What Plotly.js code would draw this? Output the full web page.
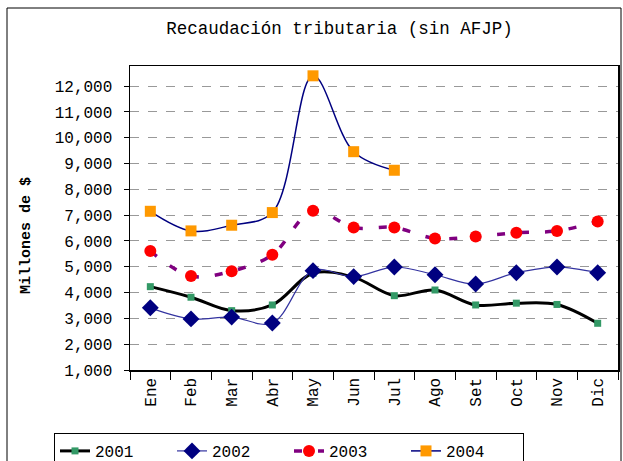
<!DOCTYPE html>
<html><head><meta charset="utf-8">
<script src="https://cdn.plot.ly/plotly-3.0.1.min.js"></script>
<style>body{margin:0;background:#fff}#c{width:623px;height:461px}</style>
</head><body><div id="c"></div>
<script>
const months = ["Ene","Feb","Mar","Abr","May","Jun","Jul","Ago","Set","Oct","Nov","Dic"];
const y2001 = [4230,3820,3300,3520,4750,4600,3880,4100,3520,3590,3540,2810];
const y2002 = [3410,2980,3050,2820,4850,4620,4990,4690,4330,4770,4990,4770];
const y2003 = [5610,4640,4830,5470,7170,6520,6520,6100,6170,6320,6390,6750];
const y2004 = [7150,6390,6610,7100,12400,9460,8740,null,null,null,null,null];
const yTicks = [1000,2000,3000,4000,5000,6000,7000,8000,9000,10000,11000,12000];

const F = "Liberation Mono, Courier New, monospace";
const traces = [
  {name:"2001", x:months, y:y2001, mode:"lines+markers", line:{color:"#000000", width:3, shape:"spline"},
   marker:{symbol:"square", color:"#339966", size:7}},
  {name:"2002", x:months, y:y2002, mode:"lines+markers", line:{color:"#3333A0", width:1.2, shape:"spline"},
   marker:{symbol:"diamond", color:"#000080", size:13}},
  {name:"2003", x:months, y:y2003, mode:"lines+markers", line:{color:"#800080", width:3.5, shape:"spline", dash:"8px,16px"},
   marker:{symbol:"circle", color:"#FF0000", size:12}},
  {name:"2004", x:months, y:y2004, mode:"lines+markers", line:{color:"#000080", width:1.5, shape:"spline"},
   marker:{symbol:"square", color:"#FF9900", size:11}, connectgaps:false}
];
const layout = {
  width:623, height:461,
  margin:{l:130, r:5, t:66, b:91, autoexpand:false},
  paper_bgcolor:"#fff", plot_bgcolor:"#fff",
  font:{family:F, color:"#000", size:15},
  title:{text:"Recaudación tributaria (sin AFJP)", font:{family:F, size:17.5, color:"#000"},
         x:0.545, xanchor:"center", y:0.94, yanchor:"middle", xref:"container", yref:"container"},
  xaxis:{type:"category", tickmode:"array", tickvals:months, ticktext:months, tickangle:-90,
         tickson:"boundaries", ticks:"outside", ticklen:8, tickcolor:"#000",
         showline:true, linecolor:"#000", linewidth:1.5, mirror:true, showgrid:false,
         tickfont:{family:F, size:16}, range:[-0.5,11.5], automargin:false},
  yaxis:{range:[1000,12780], tickvals:yTicks, tickformat:",d", ticks:"outside", ticklen:5, tickcolor:"#000",
         showline:true, linecolor:"#000", linewidth:1.5, mirror:true, ticklabelstandoff:8,
         showgrid:true, gridcolor:"#999", griddash:"dash", gridwidth:1, zeroline:false,
         tickfont:{family:F, size:16}, automargin:false},
  annotations:[{text:"<b>Millones de $</b>", xref:"paper", yref:"paper", x:(26-130)/488, y:(370-236)/304,
                xanchor:"center", yanchor:"middle", textangle:-90, showarrow:false, font:{family:F, size:15}}],
  legend:{orientation:"h", x:54/623, xanchor:"left", xref:"container", y:(370-433)/304, yanchor:"top",
          bordercolor:"#000", borderwidth:1, bgcolor:"#fff", font:{family:F, size:16},
          entrywidth:72, entrywidthmode:"pixels", traceorder:"normal"},
  shapes:[{type:"rect", xref:"paper", yref:"paper", x0:(7-130)/488, x1:(621-130)/488, y0:(370-470)/304, y1:(370-8)/304,
           line:{color:"#000", width:1}, fillcolor:"rgba(0,0,0,0)", layer:"below"}],
  showlegend:true
};
Plotly.newPlot("c", traces, layout, {staticPlot:true});
</script></body></html>
